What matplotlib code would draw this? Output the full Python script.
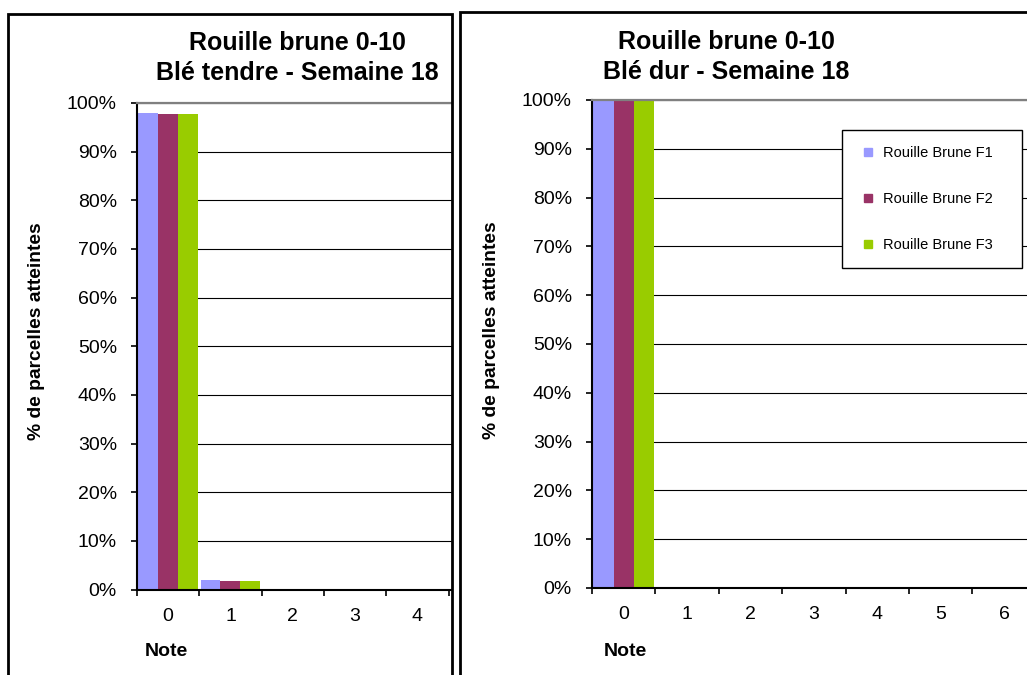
import matplotlib
matplotlib.use("Agg")
import matplotlib.pyplot as plt
import numpy as np
from matplotlib.lines import Line2D
from matplotlib.patches import Rectangle
from matplotlib.ticker import PercentFormatter, FixedLocator

plt.rcParams['font.family'] = ['Liberation Sans', 'DejaVu Sans']

# Rouille brune, semaine 18 - % of plots per note
notes_tendre = [0, 1, 2, 3, 4]
tendre_f1 = [98.0, 2.0, 0.0, 0.0, 0.0]
tendre_f2 = [97.8, 1.8, 0.0, 0.0, 0.0]
tendre_f3 = [97.8, 1.8, 0.0, 0.0, 0.0]

notes_dur = [0, 1, 2, 3, 4, 5, 6, 7, 8, 9, 10]
dur_f1 = [100.0, 0, 0, 0, 0, 0, 0, 0, 0, 0, 0]
dur_f2 = [100.0, 0, 0, 0, 0, 0, 0, 0, 0, 0, 0]
dur_f3 = [100.0, 0, 0, 0, 0, 0, 0, 0, 0, 0, 0]

series_names = ['Rouille Brune F1', 'Rouille Brune F2', 'Rouille Brune F3']
colors = ['#9999FF', '#993366', '#99CC00']

W, H = 1027, 675
fig = plt.figure(figsize=(W / 100, H / 100), dpi=100)


def px_axes(x0, x1, ytop, ybot):
    return fig.add_axes([x0 / W, 1 - ybot / H, (x1 - x0) / W, (ybot - ytop) / H])


def draw_chart(ax, notes, series, xmax):
    x = np.array(notes)
    w = 0.32
    for k, (vals, c) in enumerate(zip(series, colors)):
        ax.bar(x + (k - 1) * w, vals, width=w, color=c, edgecolor='none', zorder=2)
    ax.yaxis.set_major_locator(FixedLocator(np.arange(0, 101, 10)))
    ax.yaxis.set_major_formatter(PercentFormatter(xmax=100, decimals=0))
    ax.set_xticks(notes)
    ax.set_xticklabels([str(n) for n in notes])
    ax.xaxis.set_minor_locator(FixedLocator(np.arange(-0.5, len(notes) + 0.5, 1)))
    # limits last so the tick setters don't widen the view
    ax.set_xlim(-0.5, xmax)
    ax.set_ylim(0, 100)
    ax.tick_params(axis='x', which='major', length=0, pad=13, labelsize=14)
    ax.tick_params(axis='x', which='minor', length=4.5, width=1.2, direction='out')
    ax.tick_params(axis='y', which='major', length=4.5, width=1.2, direction='out',
                   pad=10, labelsize=14, colors='black')
    ax.set_axisbelow(True)
    ax.yaxis.grid(True, color='black', linewidth=0.8)
    for s in ['left', 'bottom']:
        ax.spines[s].set_linewidth(1.5)
        ax.spines[s].set_color('black')
    ax.spines['top'].set_color('#808080')
    ax.spines['top'].set_linewidth(1.6)
    ax.spines['top'].set_zorder(3)
    ax.spines['right'].set_visible(False)


# Blé tendre
ax1 = px_axes(137, 452, 103, 589.5)
draw_chart(ax1, notes_tendre, [tendre_f1, tendre_f2, tendre_f3], -0.5 + 315 / 62.3)

# Blé dur: the plot area is cut at the right edge after note 6
ax2 = px_axes(592, W, 100, 588)
draw_chart(ax2, notes_dur, [dur_f1, dur_f2, dur_f3], -0.5 + (W - 592) / 63.4)

# titles and axis labels
fig.text(297 / W, 1 - 58 / H, 'Rouille brune 0-10\nBlé tendre - Semaine 18',
         ha='center', va='center', fontsize=18, fontweight='bold', linespacing=1.3)
fig.text(726 / W, 1 - 57 / H, 'Rouille brune 0-10\nBlé dur - Semaine 18',
         ha='center', va='center', fontsize=18, fontweight='bold', linespacing=1.3)
fig.text(37 / W, 1 - 331 / H, '% de parcelles atteintes', rotation=90,
         ha='center', va='center', fontsize=13.9, fontweight='bold')
fig.text(492 / W, 1 - 330 / H, '% de parcelles atteintes', rotation=90,
         ha='center', va='center', fontsize=13.9, fontweight='bold')
fig.text(166 / W, 1 - 652 / H, 'Note', ha='center', va='center',
         fontsize=14, fontweight='bold')
fig.text(625 / W, 1 - 652 / H, 'Note', ha='center', va='center',
         fontsize=14, fontweight='bold')

# legend on the durum chart
handles = [Line2D([], [], marker='s', linestyle='none', markersize=6,
                  markerfacecolor=c, markeredgecolor=c) for c in colors]
leg = fig.legend(handles, series_names, loc='upper left',
                 bbox_to_anchor=(842 / W, 1 - 272 / H, 180 / W, 142 / H),
                 mode='expand', borderaxespad=0, fontsize=10.5,
                 labelspacing=2.2, borderpad=1.1, handlelength=1.4,
                 handletextpad=0.3, fancybox=False, framealpha=1)
leg.get_frame().set_edgecolor('black')
leg.get_frame().set_linewidth(1.0)

# chart object borders
for x0, x1, ytop in [(8, 452, 14), (460, 1100, 12)]:
    fig.patches.append(Rectangle((x0 / W, -0.1), (x1 - x0) / W, 1.1 - ytop / H,
                                 transform=fig.transFigure, fill=False,
                                 edgecolor='black', linewidth=2.0, zorder=10))

fig.savefig('out.png', dpi=100)
